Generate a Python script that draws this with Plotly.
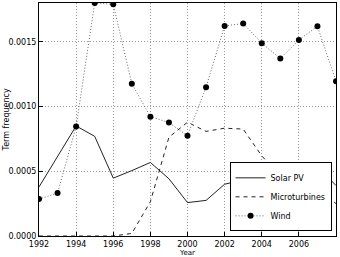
import plotly.graph_objects as go

years = list(range(1992, 2009))
solar_pv = [0.000379, 0.00062, 0.00085, 0.00077, 0.000447, 0.000505, 0.000568, 0.000442,
            0.000258, 0.000275, 0.0004, 0.000434, 0.000422, 0.00046, 0.000505, 0.000538, 0.00039]
microturbines = [0, 0, 0, 0, 0, 0.00002, 0.000265, 0.000763, 0.000879, 0.000808, 0.000833,
                 0.000826, 0.000619, 0.00046, 0.000405, 0.00037, 0.00025]
wind = [0.000285, 0.000333, 0.000846, 0.00180, 0.00179, 0.001177, 0.000922, 0.000876,
        0.000775, 0.00115, 0.001623, 0.001641, 0.00149, 0.001371, 0.001515, 0.00162, 0.001195]

x_ticks = list(range(1992, 2009, 2))
y_ticks = [0.0, 0.0005, 0.0010, 0.0015]
y_tick_text = ["0.0000", "0.0005", "0.0010", "0.0015"]

fig = go.Figure()
fig.add_trace(go.Scatter(x=years, y=solar_pv, name="Solar PV", mode="lines",
                         line=dict(color="#222222", width=1)))
fig.add_trace(go.Scatter(x=years, y=microturbines, name="Microturbines", mode="lines",
                         line=dict(color="#222222", width=1, dash="4px,4px")))
fig.add_trace(go.Scatter(x=years, y=wind, name="Wind", mode="lines+markers",
                         line=dict(color="#666666", width=1, dash="1px,2px"),
                         marker=dict(color="black", size=6)))

axis_common = dict(showline=True, linecolor="black", linewidth=1, mirror=True,
                   ticks="inside", ticklen=4, tickcolor="black",
                   showgrid=True, gridcolor="#999999", griddash="1px,2px", gridwidth=1,
                   zeroline=False, tickfont=dict(family="DejaVu Sans", size=8, color="black"))

fig.update_xaxes(range=[1992, 2008], tickvals=x_ticks, ticktext=[str(t) for t in x_ticks],
                 title=dict(text="Year", standoff=0,
                            font=dict(family="DejaVu Sans", size=7, color="black")),
                 automargin=False, **axis_common)
fig.update_yaxes(range=[0, 0.0018], tickvals=y_ticks, ticktext=y_tick_text, **axis_common)

fig.add_annotation(text="Term frequency", xref="paper", yref="paper", x=-0.13, y=0.5,
                   textangle=-90, xanchor="left", yanchor="middle", showarrow=False,
                   font=dict(family="DejaVu Sans", size=8, color="black"))

fig.update_layout(
    width=340, height=257,
    margin=dict(l=39, r=4, t=3, b=21),
    plot_bgcolor="white", paper_bgcolor="white",
    legend=dict(x=0.985, y=0.02, xanchor="right", yanchor="bottom",
                bgcolor="white", bordercolor="black", borderwidth=1,
                font=dict(family="DejaVu Sans", size=8, color="black"),
                tracegroupgap=0),
    showlegend=True,
)

fig.write_html("out.html")
